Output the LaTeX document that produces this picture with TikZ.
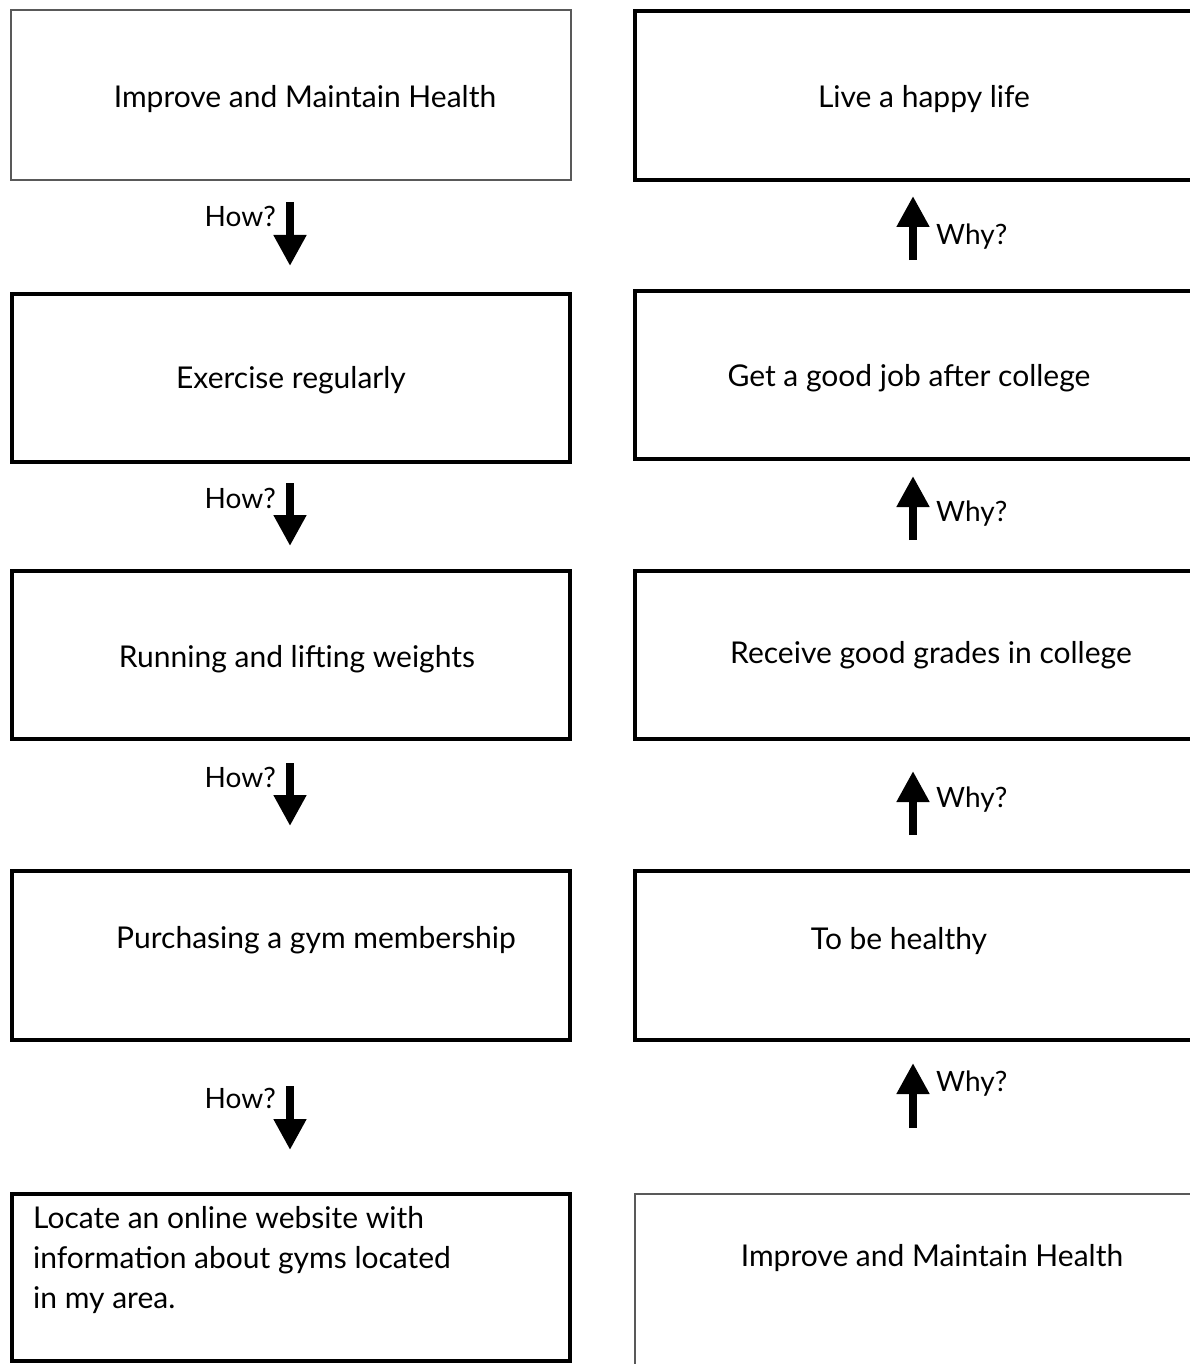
\documentclass[tikz,border=0pt]{standalone}
\usepackage{fontspec}
\setmainfont{Lato}
\usetikzlibrary{arrows.meta}
\tikzset{
  thinbox/.style={draw=black!65, line width=2pt, rectangle, inner sep=0pt, outer sep=0pt, anchor=north west},
  thickbox/.style={draw=black, line width=4.5pt, rectangle, inner sep=0pt, outer sep=0pt, anchor=north west},
  txt/.style={font=\fontsize{30}{40}\selectfont, inner sep=0pt, text=black},
  lbl/.style={font=\fontsize{28}{34}\selectfont, inner sep=0pt, text=black},
  bigarrow/.style={line width=8pt, -{Triangle[width=31pt,length=31pt]}},
}
\newcommand{\boxat}[6]{% style, name, x1, y1, x2, y2
  \node[#1, minimum width={(#5-#3)*1pt}, minimum height={(#6-#4)*1pt}] (#2) at (#3,#4) {};}
\begin{document}
\begin{tikzpicture}[x=1pt,y=-1pt]
\useasboundingbox (0,0) rectangle (1190,1364);
\fill[white] (0,0) rectangle (1190,1364);
\clip (0,0) rectangle (1190,1364);
% left column
\boxat{thinbox}{L1}{11}{10}{571}{180}
\boxat{thickbox}{L2}{12}{294}{570}{462}
\boxat{thickbox}{L3}{12}{571}{570}{739}
\boxat{thickbox}{L4}{12}{871}{570}{1040}
\boxat{thickbox}{L5}{12}{1194}{570}{1361}
% right column
\boxat{thickbox}{R1}{635}{11}{1205}{180}
\boxat{thickbox}{R2}{635}{291}{1205}{459}
\boxat{thickbox}{R3}{635}{571}{1205}{739}
\boxat{thickbox}{R4}{635}{871}{1205}{1040}
\boxat{thinbox}{R5}{635}{1194}{1205}{1390}
% texts
\node[txt] (tL1) at (305,99) {Improve and Maintain Health};
\node[txt] (tL2) at (291,380) {Exercise regularly};
\node[txt] (tL3) at (297,659) {Running and lifting weights};
\node[txt] (tL4) at (316,940) {Purchasing a gym membership};
\node[txt, anchor=north west, align=left] (tL5) at (33,1206) {Locate an online website with\\information about gyms located\\in my area.};
\node[txt] (tR1) at (924,99) {Live a happy life};
\node[txt] (tR2) at (909,378) {Get a good job after college};
\node[txt] (tR3) at (931,655) {Receive good grades in college};
\node[txt] (tR4) at (899,941) {To be healthy};
\node[txt] (tR5) at (932,1258) {Improve and Maintain Health};
% how arrows
\coordinate (h1a) at (290,202); \coordinate (h1b) at (290,266);
\coordinate (h2a) at (290,483); \coordinate (h2b) at (290,546);
\coordinate (h3a) at (290,763); \coordinate (h3b) at (290,826);
\coordinate (h4a) at (290,1086); \coordinate (h4b) at (290,1150);
\draw[bigarrow] (h1a) -- (h1b);
\draw[bigarrow] (h2a) -- (h2b);
\draw[bigarrow] (h3a) -- (h3b);
\draw[bigarrow] (h4a) -- (h4b);
\node[lbl, anchor=east] (how1) at (276,216) {How?};
\node[lbl, anchor=east] (how2) at (276,498) {How?};
\node[lbl, anchor=east] (how3) at (276,777) {How?};
\node[lbl, anchor=east] (how4) at (276,1098) {How?};
% why arrows
\coordinate (w1a) at (913,260); \coordinate (w1b) at (913,196);
\coordinate (w2a) at (913,540); \coordinate (w2b) at (913,476);
\coordinate (w3a) at (913,835); \coordinate (w3b) at (913,771);
\coordinate (w4a) at (913,1128); \coordinate (w4b) at (913,1063);
\draw[bigarrow] (w1a) -- (w1b);
\draw[bigarrow] (w2a) -- (w2b);
\draw[bigarrow] (w3a) -- (w3b);
\draw[bigarrow] (w4a) -- (w4b);
\node[lbl, anchor=west] (why1) at (936,237) {Why?};
\node[lbl, anchor=west] (why2) at (936,514) {Why?};
\node[lbl, anchor=west] (why3) at (936,800) {Why?};
\node[lbl, anchor=west] (why4) at (936,1084) {Why?};
\end{tikzpicture}
\end{document}
